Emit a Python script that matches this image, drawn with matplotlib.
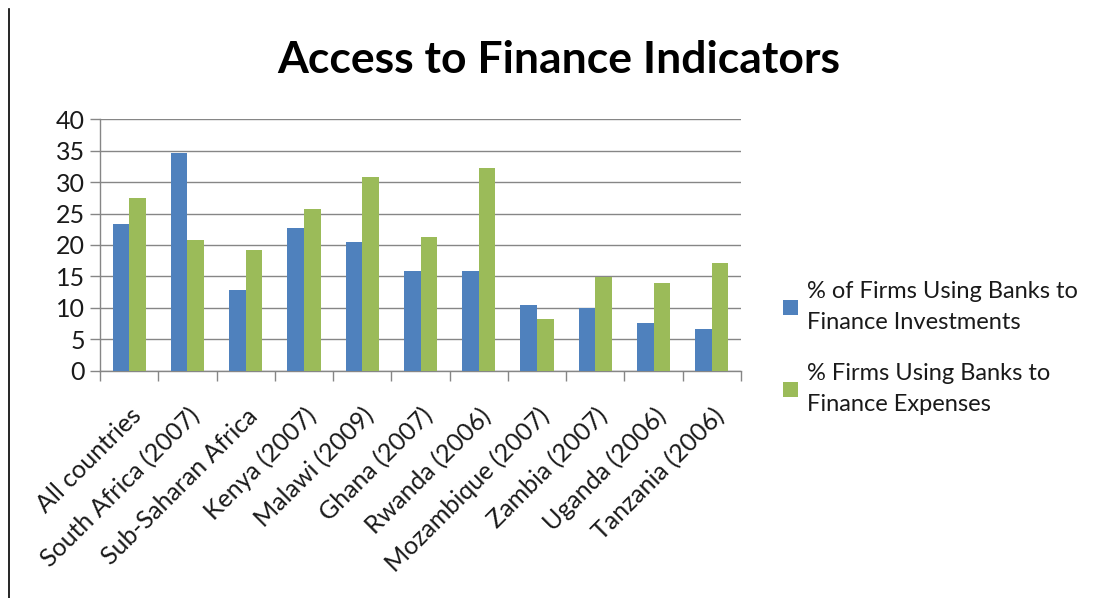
import matplotlib
matplotlib.use("Agg")
import matplotlib.pyplot as plt
import numpy as np
from matplotlib.lines import Line2D

plt.rcParams['font.family'] = ['Lato', 'DejaVu Sans']

categories = ["All countries", "South Africa (2007)", "Sub-Saharan Africa",
              "Kenya (2007)", "Malawi (2009)", "Ghana (2007)", "Rwanda (2006)",
              "Mozambique (2007)", "Zambia (2007)", "Uganda (2006)", "Tanzania (2006)"]
investments = [23.3, 34.6, 12.9, 22.7, 20.4, 15.8, 15.8, 10.4, 10.0, 7.6, 6.6]
expenses = [27.4, 20.8, 19.2, 25.7, 30.8, 21.3, 32.2, 8.2, 14.9, 13.9, 17.2]
series_names = ["% of Firms Using Banks to\nFinance Investments",
                "% Firms Using Banks to\nFinance Expenses"]
yticks = [0, 5, 10, 15, 20, 25, 30, 35, 40]

blue = "#4F81BD"
green = "#9BBB59"
grid = "#868686"
text_col = "#1a1a1a"

fig = plt.figure(figsize=(11, 5.98), dpi=100)
ax = fig.add_axes([100 / 1100, 1 - 370.7 / 598, 641 / 1100, 251.4 / 598])

x = np.arange(len(categories))
w = 0.285
ax.bar(x - w / 2, investments, w, color=blue, label=series_names[0], zorder=3)
ax.bar(x + w / 2, expenses, w, color=green, label=series_names[1], zorder=3)

ax.set_xlim(-0.5, len(categories) - 0.5)
ax.set_ylim(0, 40)
ax.set_yticks(yticks)
ax.tick_params(axis='y', length=7, color=grid, width=1, labelsize=18, pad=4,
               labelcolor=text_col)
ax.yaxis.grid(True, color=grid, linewidth=1, zorder=0)

# category ticks on the boundaries, labels at centres
ax.set_xticks(np.arange(len(categories) + 1) - 0.5)
ax.set_xticklabels([])
ax.tick_params(axis='x', which='major', length=7.5, color=grid, width=1)
ax.set_xticks(x, minor=True)
ax.set_xticklabels(categories, minor=True, rotation=45, ha='right', va='top',
                   rotation_mode='anchor', fontsize=18, color=text_col)
ax.tick_params(axis='x', which='minor', length=0, pad=24)

for s in ['top', 'right']:
    ax.spines[s].set_visible(False)
for s in ['left', 'bottom']:
    ax.spines[s].set_color(grid)
    ax.spines[s].set_linewidth(1)

fig.text(559 / 1100, 1 - 60 / 598, "Access to Finance Indicators", ha='center',
         va='center', fontsize=32, fontweight='bold', color='black')

leg = fig.legend(loc='upper left', bbox_to_anchor=(774 / 1100, 1 - 272 / 598),
                 frameon=False, fontsize=17, handlelength=0.6, handleheight=0.6,
                 handletextpad=0.4, labelspacing=1.3, labelcolor=text_col,
                 borderaxespad=0)
for t in leg.get_texts():
    t.set_linespacing(1.55)

fig.add_artist(Line2D([9 / 1100, 9 / 1100], [0, 1 - 9 / 598], color='black',
                      linewidth=1.2))

fig.savefig("out.png", dpi=100, facecolor='white')
